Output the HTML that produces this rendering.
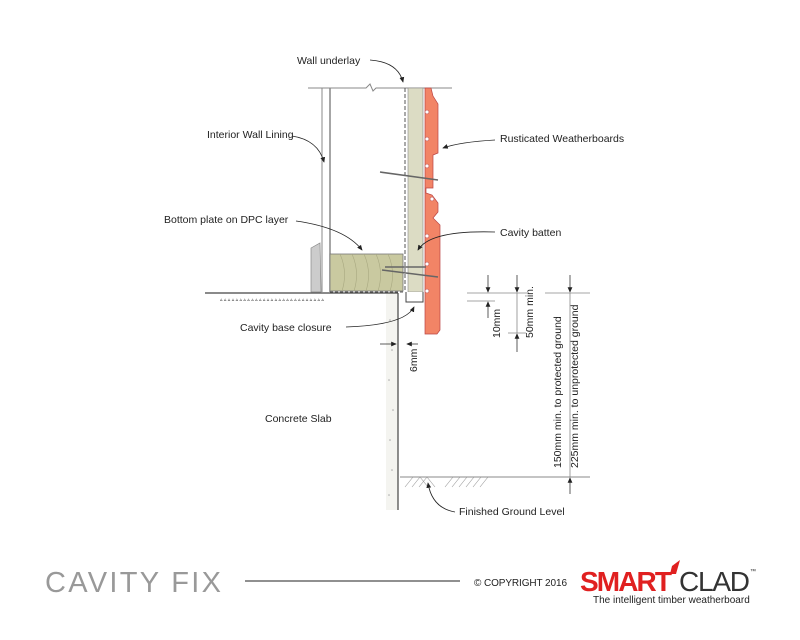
<!DOCTYPE html>
<html><head><style>body{margin:0;background:#fff}svg{display:block}text{font-family:"Liberation Sans",sans-serif;fill:#222}</style></head>
<body>
<svg width="800" height="640" viewBox="0 0 800 640">
<defs><marker id="a" markerWidth="8" markerHeight="8" refX="6" refY="4" orient="auto"><path d="M0,1 L7,4 L0,7z" fill="#222"/></marker></defs>
<rect x="386" y="293" width="12" height="217" fill="#f4f4f0"/>
<line x1="205" y1="293" x2="398" y2="293" stroke="#444" stroke-width="1.2"/>
<line x1="398" y1="293" x2="398" y2="510" stroke="#444" stroke-width="1.2"/>
<g fill="#999" font-size="5"><text x="220" y="301">▵ ▵ ▵ ▵ ▵ ▵ ▵ ▵ ▵ ▵ ▵ ▵ ▵ ▵ ▵ ▵ ▵ ▵ ▵ ▵ ▵ ▵ ▵ ▵ ▵ ▵ ▵</text></g>
<g fill="#aaa"><circle cx="390" cy="320" r=".8"/><circle cx="392" cy="350" r=".8"/><circle cx="389" cy="380" r=".8"/><circle cx="393" cy="410" r=".8"/><circle cx="390" cy="440" r=".8"/><circle cx="392" cy="470" r=".8"/><circle cx="389" cy="495" r=".8"/></g>
<path d="M308 88 H366 L370 84 L373 91 L376 88 H452" stroke="#888" fill="none"/>
<line x1="322" y1="88" x2="322" y2="292" stroke="#888"/>
<line x1="330" y1="88" x2="330" y2="292" stroke="#888" stroke-width="1.5"/>
<path d="M311 248 L320 243 L321 292 H311Z" fill="#ccc" stroke="#888" stroke-width=".7"/>
<rect x="330" y="254" width="73" height="37" fill="#c9c9a0" stroke="#777" stroke-width=".8"/>
<g stroke="#a8a880" fill="none" stroke-width=".6"><path d="M340 254 q8 18 2 37"/><path d="M352 254 q8 18 2 37"/><path d="M364 254 q8 18 2 37"/><path d="M376 254 q8 18 2 37"/><path d="M388 254 q8 18 2 37"/></g>
<line x1="330" y1="292" x2="404" y2="292" stroke="#555" stroke-dasharray="3,2"/>
<line x1="405" y1="88" x2="405" y2="290" stroke="#555" stroke-dasharray="4,2"/>
<rect x="408" y="88" width="15" height="204" fill="#dcdcc4" stroke="#888" stroke-width=".6"/>
<path d="M406 292 V302 H423 V292" fill="#fff" stroke="#444"/>
<path d="M425 88 H431 L433 96 L438 104 V153 L433 155 V184 L433 188 L426 188 V193 L432 195 L438 203 V212 L433 218 L440 225 V330 L437 334 H425 Z" fill="#f28466" stroke="#b44" stroke-width=".7"/>
<g fill="#fff" stroke="#b44" stroke-width=".5"><circle cx="427" cy="112" r="2"/><circle cx="427" cy="139" r="2"/><circle cx="427" cy="166" r="2"/><circle cx="432" cy="199" r="2"/><circle cx="427" cy="236" r="2"/><circle cx="427" cy="264" r="2"/><circle cx="427" cy="291" r="2"/></g>
<g stroke="#666" stroke-width="1.6"><line x1="380" y1="172" x2="438" y2="180"/><line x1="385" y1="267" x2="426" y2="267"/><line x1="382" y1="270" x2="438" y2="277"/></g>
<line x1="400" y1="477" x2="590" y2="477" stroke="#888"/>
<g stroke="#999" stroke-width=".6"><path d="M405 487 l8-10 M412 487 l8-10 M419 487 l8-10 M428 487 l-8-10 M435 487 l-8-10 M445 487 l8-10 M452 487 l8-10 M459 487 l8-10 M466 487 l8-10 M473 487 l8-10 M480 487 l8-10"/></g>
<g stroke="#888" stroke-width=".8"><line x1="467" y1="293" x2="497" y2="293"/><line x1="467" y1="301" x2="495" y2="301"/><line x1="497" y1="293" x2="527" y2="293"/><line x1="508" y1="333" x2="526" y2="333"/><line x1="545" y1="293" x2="590" y2="293"/></g>
<g stroke="#333" stroke-width=".8" marker-end="url(#a)"><line x1="488" y1="275" x2="488" y2="292"/><line x1="488" y1="318" x2="488" y2="302"/><line x1="517" y1="275" x2="517" y2="292"/><line x1="517" y1="352" x2="517" y2="334"/><line x1="570" y1="275" x2="570" y2="292"/><line x1="570" y1="494" x2="570" y2="478"/></g>
<line x1="570" y1="293" x2="570" y2="477" stroke="#888" stroke-width=".8"/>
<line x1="517" y1="293" x2="517" y2="333" stroke="#888" stroke-width=".8"/>
<g stroke="#333" stroke-width=".8"><line x1="380" y1="344" x2="396" y2="344" marker-end="url(#a)"/><line x1="418" y1="344" x2="407" y2="344" marker-end="url(#a)"/></g>
<g stroke="#222" fill="none" stroke-width=".8" marker-end="url(#a)">
<path d="M370 60 Q398 62 403 82"/>
<path d="M292 136 Q318 140 324 162"/>
<path d="M495 140 Q460 142 443 148"/>
<path d="M296 221 Q345 228 362 250"/>
<path d="M495 232 Q430 230 418 250"/>
<path d="M346 327 Q405 325 414 307"/>
<path d="M455 512 Q432 508 428 483"/>
</g>
<g font-size="10.5">
<text x="297" y="64">Wall underlay</text>
<text x="207" y="138">Interior Wall Lining</text>
<text x="500" y="142">Rusticated Weatherboards</text>
<text x="164" y="223">Bottom plate on DPC layer</text>
<text x="500" y="236">Cavity batten</text>
<text x="240" y="331">Cavity base closure</text>
<text x="265" y="422">Concrete Slab</text>
<text x="459" y="515">Finished Ground Level</text>
<text transform="translate(417,372) rotate(-90)">6mm</text>
<text transform="translate(500,338) rotate(-90)">10mm</text>
<text transform="translate(533,338) rotate(-90)">50mm min.</text>
<text transform="translate(561,468) rotate(-90)">150mm min. to protected ground</text>
<text transform="translate(578,468) rotate(-90)">225mm min. to unprotected ground</text>
</g>
<text x="45" y="592" font-size="29" style="fill:#999" textLength="176">CAVITY FIX</text>
<line x1="245" y1="581" x2="460" y2="581" stroke="#222"/>
<text x="474" y="586" font-size="10" textLength="93">© COPYRIGHT 2016</text>
<text x="580" y="591" font-size="28" font-weight="bold" style="fill:#e02020" textLength="92">SMART</text>
<path d="M672 566 L680 560 L676 574 L670 574Z" fill="#e02020"/>
<text x="679" y="591" font-size="28" style="fill:#333" textLength="71">CLAD</text>
<text x="750" y="573" font-size="6">™</text>
<text x="593" y="603" font-size="10">The intelligent timber weatherboard</text>
</svg>
</body></html>
